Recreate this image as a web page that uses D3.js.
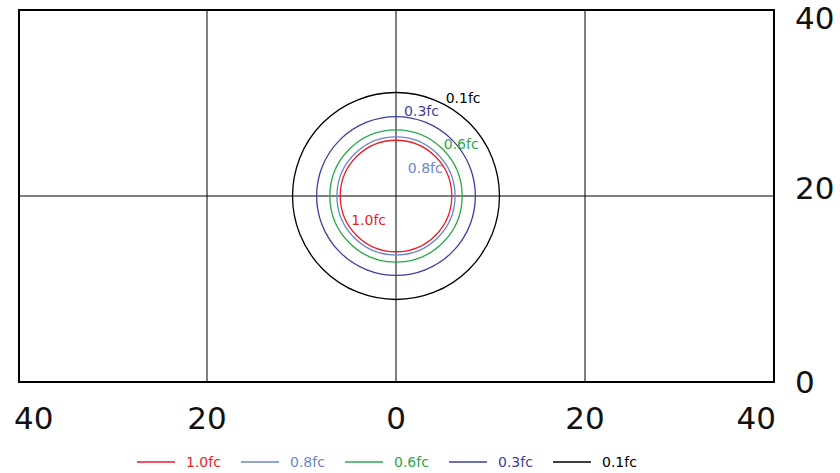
<!DOCTYPE html>
<html>
<head>
<meta charset="utf-8">
<script src="https://cdn.jsdelivr.net/npm/d3@7"></script>
<style>
  body { margin: 0; background: #fff; }
  svg { display: block; }
</style>
</head>
<body>
<script>
// contour series, one circle each, centre (0, 20)
var names  = ["1.0fc", "0.8fc", "0.6fc", "0.3fc", "0.1fc"];
var radius = [5.9, 6.25, 7.0, 8.4, 10.95];
var colors = ["#ee1c25", "#6a86c8", "#2aa84a", "#3a3fa0", "#000000"];
var centreX = 0, centreY = 20;
// where each contour label sits (data units)
var labelX = [-2.9, 3.1, 6.9, 2.7, 7.1];
var labelY = [17.4, 23.0, 25.6, 29.1, 30.5];
// axes
var xTicks = [-40, -20, 0, 20, 40];
var yTicks = [0, 20, 40];

var W = 840, H = 473;
// plot box (don't call these top/left, window.top is read only)
var boxL = 19, boxR = 774, boxT = 10, boxB = 382;

var svg = d3.select("body").append("svg")
    .attr("width", W)
    .attr("height", H);

var x = d3.scaleLinear().domain([-40, 40]).range([boxL - 1, boxR]);
var y = d3.scaleLinear().domain([0, 40]).range([boxB, boxT]);
var pxPerUnit = x(1) - x(0);

//grid lines
svg.append("g").selectAll("line")
    .data(xTicks.slice(1, -1)).enter()
    .append("line")
    .attr("x1", function(d) { return x(d); })
    .attr("x2", function(d) { return x(d); })
    .attr("y1", boxT).attr("y2", boxB)
    .attr("stroke", "#000").attr("stroke-width", 1);
svg.append("g").selectAll("line")
    .data(yTicks.slice(1, -1)).enter()
    .append("line")
    .attr("y1", function(d) { return y(d); })
    .attr("y2", function(d) { return y(d); })
    .attr("x1", boxL).attr("x2", boxR)
    .attr("stroke", "#000").attr("stroke-width", 1);

// frame
svg.append("rect")
    .attr("x", boxL).attr("y", boxT)
    .attr("width", boxR - boxL).attr("height", boxB - boxT)
    .attr("fill", "none").attr("stroke", "#000").attr("stroke-width", 2);

// circles
svg.append("g").selectAll("circle")
    .data(names).enter()
    .append("circle")
    .attr("cx", x(centreX))
    .attr("cy", y(centreY))
    .attr("r", function(d, i) { return radius[i] * pxPerUnit; })
    .attr("fill", "none")
    .attr("stroke", function(d, i) { return colors[i]; })
    .attr("stroke-width", 1.3);

// contour labels
svg.append("g").selectAll("text")
    .data(names).enter()
    .append("text")
    .attr("x", function(d, i) { return x(labelX[i]); })
    .attr("y", function(d, i) { return y(labelY[i]); })
    .attr("text-anchor", "middle")
    .attr("dominant-baseline", "central")
    .attr("font-family", "DejaVu Sans")
    .attr("font-size", 14)
    .attr("fill", function(d, i) { return colors[i]; })
    .text(function(d) { return d; });

// x tick labels, absolute values, ends kept inside the frame
var tickFont = 31;
svg.append("g").selectAll("text")
    .data(xTicks).enter()
    .append("text")
    .attr("x", function(d, i) {
        if (i == 0) return boxL - 5;
        if (i == xTicks.length - 1) return boxR + 2;
        return x(d);
    })
    .attr("text-anchor", function(d, i) {
        if (i == 0) return "start";
        if (i == xTicks.length - 1) return "end";
        return "middle";
    })
    .attr("y", 418)
    .attr("dominant-baseline", "central")
    .attr("font-family", "DejaVu Sans")
    .attr("font-size", tickFont)
    .attr("fill", "#111")
    .text(function(d) { return Math.abs(d); });

// y tick labels on the right
svg.append("g").selectAll("text")
    .data(yTicks).enter()
    .append("text")
    .attr("x", 795)
    .attr("y", function(d, i) {
        var c = y(d);
        if (i > 0 && i < yTicks.length - 1) c = c - 8;
        return Math.max(c, boxT + 8);
    })
    .attr("dominant-baseline", "central")
    .attr("font-family", "DejaVu Sans")
    .attr("font-size", tickFont)
    .attr("fill", "#111")
    .text(function(d) { return d; });

// legend
var legend = svg.append("g").selectAll("g")
    .data(names).enter()
    .append("g")
    .attr("transform", function(d, i) { return "translate(" + (137 + i * 104) + ",462)"; });
legend.append("line")
    .attr("x1", 0).attr("x2", 38)
    .attr("stroke", function(d, i) { return colors[i]; })
    .attr("stroke-width", 1.3);
legend.append("text")
    .attr("x", 49)
    .attr("dominant-baseline", "central")
    .attr("font-family", "DejaVu Sans")
    .attr("font-size", 14)
    .attr("fill", function(d, i) { return colors[i]; })
    .text(function(d) { return d; });
</script>
</body>
</html>
